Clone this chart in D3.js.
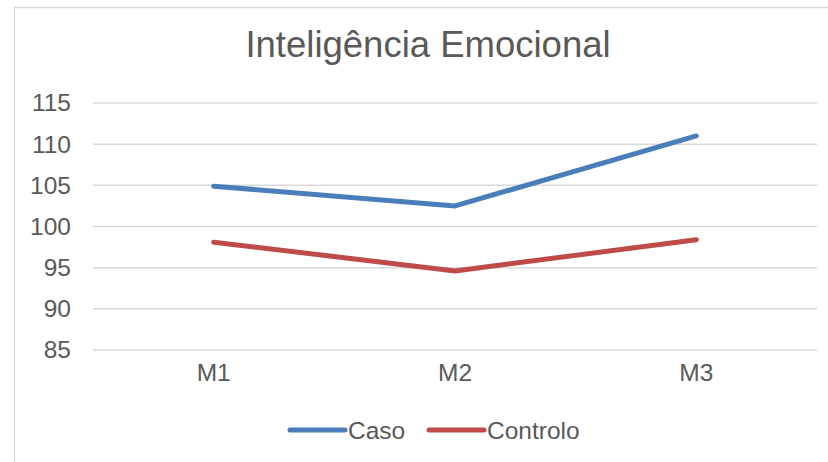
<!DOCTYPE html>
<html>
<head>
<meta charset="utf-8">
<script src="https://cdn.jsdelivr.net/npm/d3@7"></script>
<style>
  body { margin: 0; background: #fff; }
  text { font-family: "Liberation Sans", Arial, sans-serif; fill: #595959; }
</style>
</head>
<body>
<svg id="chart"></svg>
<script>
// data
const categories = ["M1", "M2", "M3"];
const caso = [104.9, 102.5, 111.0];
const controlo = [98.1, 94.6, 98.4];
const yTicks = [85, 90, 95, 100, 105, 110, 115];
const seriesNames = ["Caso", "Controlo"];
const seriesColors = ["#4a7ebb", "#be4b48"];

const width = 828, height = 462;
const margin = {top: 103, right: 11, bottom: 112, left: 93};
const labelSize = "24.5px";

let svg = d3.select("#chart")
    .attr("width", width)
    .attr("height", height);

// chart area border (only top and left visible in the crop)
svg.append("rect")
    .attr("x", 14.5).attr("y", 7.5)
    .attr("width", 900).attr("height", 600)
    .attr("fill", "none")
    .attr("stroke", "#d9d9d9")
    .attr("stroke-width", 1.5);

svg.append("text")
    .attr("x", 428).attr("y", 57)
    .attr("text-anchor", "middle")
    .style("font-size", "36.5px")
    .text("Inteligência Emocional");

let x = d3.scaleBand()
    .domain(categories)
    .range([margin.left, width - margin.right]);

let y = d3.scaleLinear()
    .domain([85, 115])
    .range([height - margin.bottom, margin.top]);

// gridlines
svg.append("g")
    .selectAll("line")
    .data(yTicks)
    .enter()
    .append("line")
    .attr("x1", margin.left)
    .attr("x2", width - margin.right)
    .attr("y1", d => y(d))
    .attr("y2", d => y(d))
    .attr("stroke", "#d9d9d9")
    .attr("stroke-width", 1.5);

// y axis labels
let yAxis = svg.append("g")
    .attr("transform", `translate(${margin.left - 22},0)`)
    .call(d3.axisLeft(y).tickValues(yTicks).tickSize(0).tickPadding(0));
yAxis.select(".domain").remove();
yAxis.selectAll("text")
    .style("font-size", labelSize)
    .style("font-family", "'Liberation Sans', Arial, sans-serif")
    .attr("fill", "#595959");

// x axis labels
let xAxis = svg.append("g")
    .attr("transform", `translate(0,${height - margin.bottom + 14})`)
    .call(d3.axisBottom(x).tickSize(0).tickPadding(0));
xAxis.select(".domain").remove();
xAxis.selectAll("text")
    .style("font-size", labelSize)
    .style("font-family", "'Liberation Sans', Arial, sans-serif")
    .attr("fill", "#595959");

// lines
let line = d3.line()
    .x((d, i) => x(categories[i]) + x.bandwidth() / 2)
    .y(d => y(d));

[caso, controlo].forEach((values, k) => {
    svg.append("path")
        .datum(values)
        .attr("d", line)
        .attr("fill", "none")
        .attr("stroke", seriesColors[k])
        .attr("stroke-width", 5)
        .attr("stroke-linecap", "round")
        .attr("stroke-linejoin", "round");
});

// legend
const legendX = [290, 429];
const legendY = 430;
let legend = svg.append("g");
seriesNames.forEach((name, k) => {
    legend.append("line")
        .attr("x1", legendX[k]).attr("x2", legendX[k] + 55)
        .attr("y1", legendY).attr("y2", legendY)
        .attr("stroke", seriesColors[k])
        .attr("stroke-width", 5)
        .attr("stroke-linecap", "round");
    legend.append("text")
        .attr("x", legendX[k] + 58)
        .attr("y", legendY + 8.5)
        .style("font-size", labelSize)
        .text(name);
});
</script>
</body>
</html>
